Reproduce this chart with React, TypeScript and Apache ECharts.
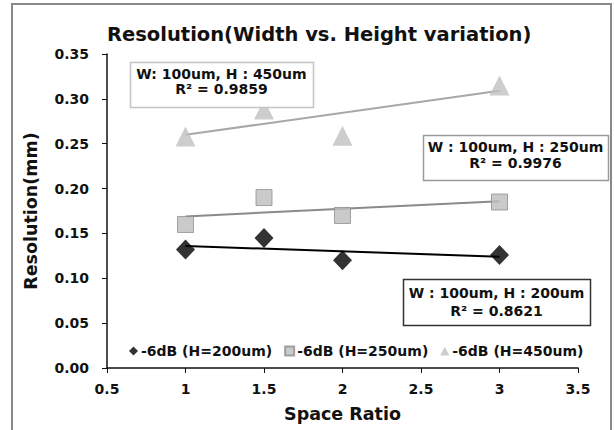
import React, { useEffect, useRef } from "react";
import * as echarts from "echarts";

const spaceRatio = [1, 1.5, 2, 3];
const res200 = [0.132, 0.145, 0.12, 0.126];
const res250 = [0.16, 0.19, 0.17, 0.185];
const res450 = [0.258, 0.288, 0.259, 0.315];
// trendline end values (at x = 1 and x = 3)
const trendX = [1, 3];
const trend200 = [0.136, 0.124];
const trend250 = [0.169, 0.186];
const trend450 = [0.26, 0.309];
const legendNames = ["-6dB (H=200um)", "-6dB (H=250um)", "-6dB (H=450um)"];
const boxLines = [
  ["W: 100um, H : 450um", "R² = 0.9859"],
  ["W : 100um, H : 250um", "R² = 0.9976"],
  ["W : 100um, H : 200um", "R² = 0.8621"],
];

const FONT = "DejaVu Sans";

export default function App() {
  const ref = useRef<HTMLDivElement>(null);
  useEffect(() => {
    document.body.style.margin = "0";
    const chart = echarts.init(ref.current!, null, { renderer: "svg" });
    const pairs = (xs: number[], ys: number[]) => xs.map((x, i) => [x, ys[i]]);
    const boxes = [
      { x: 130, y: 62, w: 183, h: 45, stroke: "#c4c4c4", l1: 12, l2: 27 },
      { x: 423, y: 135, w: 185, h: 45, stroke: "#9a9a9a", l1: 12, l2: 28 },
      { x: 403, y: 279, w: 187, h: 46, stroke: "#333333", l1: 14, l2: 32 },
    ];
    const graphics: any[] = [
      {
        type: "rect",
        shape: { x: 12, y: 4, width: 599, height: 460 },
        style: { fill: "none", stroke: "#888888", lineWidth: 2 },
        silent: true,
        z: 0,
      },
    ];
    boxes.forEach((b, i) => {
      graphics.push({
        type: "rect",
        shape: { x: b.x + 0.5, y: b.y + 0.5, width: b.w, height: b.h },
        style: { fill: "#ffffff", stroke: b.stroke, lineWidth: 1.5 },
        z: 10,
      });
      graphics.push({
        type: "text",
        x: b.x + b.w / 2,
        y: b.y + b.l1,
        style: {
          text: boxLines[i][0],
          align: "center",
          verticalAlign: "middle",
          fontFamily: FONT,
          fontWeight: "bold",
          fontSize: 14,
          fill: "#111111",
        },
        z: 11,
      });
      graphics.push({
        type: "text",
        x: b.x + b.w / 2,
        y: b.y + b.l2,
        style: {
          text: boxLines[i][1],
          align: "center",
          verticalAlign: "middle",
          fontFamily: FONT,
          fontWeight: "bold",
          fontSize: 14,
          fill: "#111111",
        },
        z: 11,
      });
    });

    const axisLabel = { fontFamily: FONT, fontWeight: "bold", fontSize: 14, color: "#111" };
    chart.setOption({
      animation: false,
      backgroundColor: "#ffffff",
      title: {
        text: "Resolution(Width vs. Height variation)",
        left: 102,
        top: 19,
        textStyle: { fontFamily: FONT, fontWeight: "bold", fontSize: 19.5, color: "#111" },
      },
      grid: { left: 107, right: 36, top: 54, bottom: 62, containLabel: false },
      legend: {
        left: 124,
        top: 339,
        itemWidth: 9,
        itemHeight: 9,
        itemGap: 12,
        textStyle: { fontFamily: FONT, fontWeight: "bold", fontSize: 14, color: "#111", padding: [0, 0, 0, -2] },
        data: [
          { name: legendNames[0], icon: "diamond" },
          { name: legendNames[1], icon: "rect" },
          { name: legendNames[2], icon: "triangle" },
        ],
      },
      xAxis: {
        type: "value",
        min: 0.5,
        max: 3.5,
        interval: 0.5,
        name: "Space Ratio",
        nameLocation: "middle",
        nameGap: 37,
        nameTextStyle: { fontFamily: FONT, fontWeight: "bold", fontSize: 17.5, color: "#111" },
        axisLine: { onZero: false, lineStyle: { color: "#111", width: 1.5 } },
        axisTick: { show: true, length: 5, lineStyle: { color: "#111" } },
        axisLabel: { ...axisLabel, margin: 14 },
        splitLine: { show: false },
      },
      yAxis: {
        type: "value",
        min: 0,
        max: 0.35,
        interval: 0.05,
        name: "Resolution(mm)",
        nameLocation: "middle",
        nameGap: 67,
        nameTextStyle: { fontFamily: FONT, fontWeight: "bold", fontSize: 17.5, color: "#111" },
        axisLine: { show: true, onZero: false, lineStyle: { color: "#111", width: 1.5 } },
        axisTick: { show: true, length: 5, lineStyle: { color: "#111" } },
        axisLabel: { ...axisLabel, margin: 18, formatter: (v: number) => v.toFixed(2) },
        splitLine: { show: false },
      },
      graphic: graphics,
      series: [
        {
          type: "line",
          data: pairs(trendX, trend200),
          showSymbol: false,
          lineStyle: { color: "#000000", width: 2 },
          z: 2,
          silent: true,
        },
        {
          type: "line",
          data: pairs(trendX, trend250),
          showSymbol: false,
          lineStyle: { color: "#8a8a8a", width: 2 },
          z: 2,
          silent: true,
        },
        {
          type: "line",
          data: pairs(trendX, trend450),
          showSymbol: false,
          lineStyle: { color: "#a8a8a8", width: 2 },
          z: 2,
          silent: true,
        },
        {
          name: legendNames[0],
          type: "scatter",
          symbol: "diamond",
          symbolSize: [19, 20],
          data: pairs(spaceRatio, res200),
          itemStyle: { color: "#000000" },
          z: 3,
        },
        {
          name: legendNames[1],
          type: "scatter",
          symbol: "rect",
          symbolSize: 16,
          data: pairs(spaceRatio, res250),
          itemStyle: { color: "#bdbdbd", borderColor: "#8e8e8e", borderWidth: 1 },
          z: 3,
        },
        {
          name: legendNames[2],
          type: "scatter",
          symbol: "triangle",
          symbolSize: [20, 20],
          data: pairs(spaceRatio, res450),
          itemStyle: { color: "#c0c0c0" },
          z: 3,
        },
      ],
    });
    return () => chart.dispose();
  }, []);
  return <div ref={ref} style={{ width: 614, height: 430 }} />;
}
